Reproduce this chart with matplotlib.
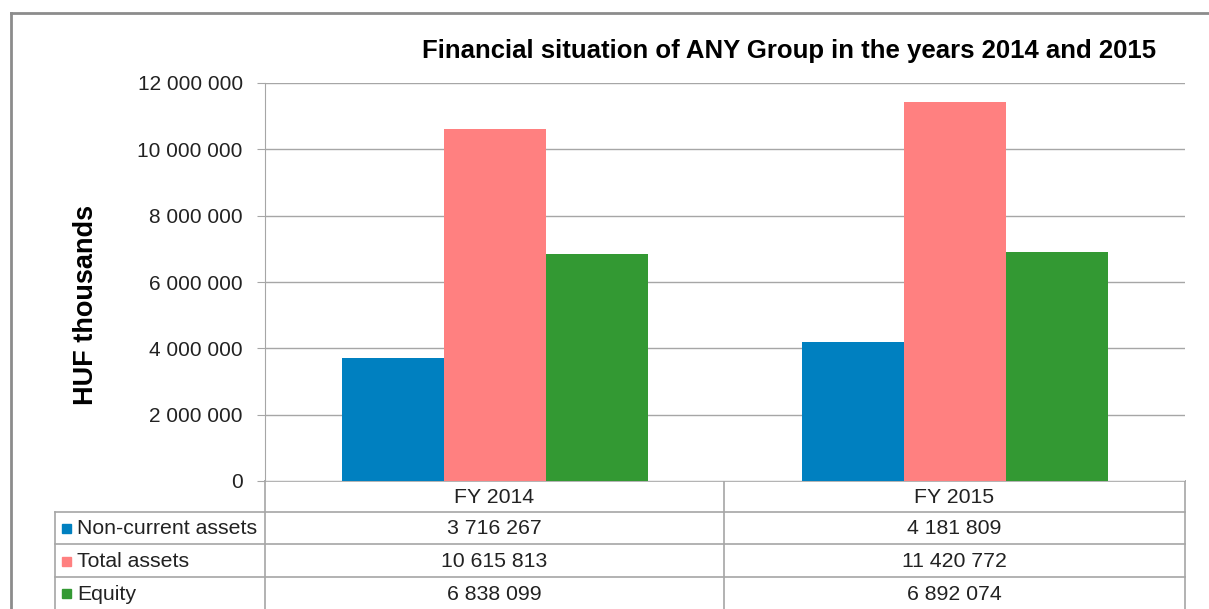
import numpy as np
import matplotlib.pyplot as plt
from matplotlib.patches import Rectangle

plt.rcParams['font.family'] = ['Liberation Sans', 'DejaVu Sans']

# data
categories = ['FY 2014', 'FY 2015']
series = ['Non-current assets', 'Total assets', 'Equity']
non_current = [3716267, 4181809]
total_assets = [10615813, 11420772]
equity = [6838099, 6892074]
values = [non_current, total_assets, equity]
colors = ['#0080C0', '#FF8080', '#339933']

W, H = 1209, 609
fig = plt.figure(figsize=(W / 100, H / 100), dpi=100)

# overlay axes in pixel coords for frame + table
ov = fig.add_axes([0, 0, 1, 1])
ov.set_xlim(0, W)
ov.set_ylim(H, 0)
ov.axis('off')

grid_c = '#A6A6A6'
# outer chart frame
ov.plot([11, W + 5], [13, 13], color='#8C8C8C', lw=2)
ov.plot([11, 11], [13, H + 5], color='#8C8C8C', lw=2)

# plot area
x0, x1, y_top, y_bot = 265, 1185, 83, 481
ax = fig.add_axes([x0 / W, 1 - y_bot / H, (x1 - x0) / W, (y_bot - y_top) / H])
ax.set_xlim(0, len(categories))
ax.set_ylim(0, 12000000)
bw = 0.222
xc = np.arange(len(categories)) + 0.5
for i, (s, v, c) in enumerate(zip(series, values, colors)):
    ax.bar(xc + (i - 1) * bw, v, width=bw, color=c, zorder=3)

yt = np.arange(0, 12000001, 2000000)
ax.set_yticks(yt)
ax.set_yticklabels([f'{int(t):,}'.replace(',', ' ') for t in yt], fontsize=15, color='#222222')
ax.set_xticks([])
ax.grid(axis='y', color=grid_c, lw=1, zorder=0)
for sp in ['top', 'right', 'bottom']:
    ax.spines[sp].set_visible(False)
ax.spines['left'].set_color(grid_c)
ax.tick_params(axis='y', length=6, color=grid_c, pad=10)

ax.set_ylabel('HUF thousands', fontsize=19.5, fontweight='bold')
ax.yaxis.set_label_coords(-0.1805, 0.442)
fig.text(789 / W, 1 - 51 / H, 'Financial situation of ANY Group in the years 2014 and 2015',
         ha='center', va='center', fontsize=18.5, fontweight='bold')

# data table
row_y = [481, 512, 544, 577, 609]
col_x = [55, 265, 724, 1185]
ov.plot([x0, x1], [481, 481], color=grid_c, lw=1.2)
for y in row_y[1:4]:
    ov.plot([col_x[0], x1], [y, y], color=grid_c, lw=1.2)
ov.plot([col_x[0], col_x[0]], [512, H], color=grid_c, lw=1.2)
for x in col_x[1:]:
    ov.plot([x, x], [481, H], color=grid_c, lw=1.2)

fs_tab = 15.3
for j, cat in enumerate(categories):
    cx = (col_x[j + 1] + col_x[j + 2]) / 2
    ov.text(cx, (row_y[0] + row_y[1]) / 2 + 1, cat, ha='center', va='center', fontsize=fs_tab, color='#222222')
for i, (s, v, c) in enumerate(zip(series, values, colors)):
    ym = (row_y[i + 1] + row_y[i + 2]) / 2 + 1
    ov.add_patch(Rectangle((62, ym - 5), 9, 9, color=c))
    ov.text(77, ym, s, ha='left', va='center', fontsize=fs_tab, color='#222222')
    for j in range(len(categories)):
        cx = (col_x[j + 1] + col_x[j + 2]) / 2
        ov.text(cx, ym, f'{v[j]:,}'.replace(',', ' '), ha='center', va='center', fontsize=fs_tab, color='#222222')

fig.savefig('out.png', dpi=100)
